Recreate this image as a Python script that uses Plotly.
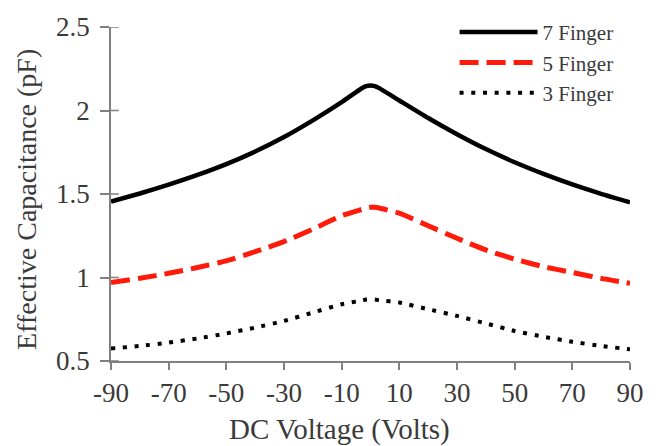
import plotly.graph_objects as go

# DC bias sweep (V) and effective capacitance (pF) for each finger count
voltage = [-90, -80, -70, -60, -50, -40, -30, -20, -10, -3, -1.5, 0, 1.5, 3, 10, 20, 30, 40, 50, 60, 70, 80, 90]
cap_7 = [1.455, 1.503, 1.556, 1.614, 1.679, 1.754, 1.841, 1.941, 2.05, 2.133, 2.146, 2.15, 2.146, 2.134, 2.06, 1.955, 1.858, 1.769, 1.69, 1.62, 1.557, 1.501, 1.45]
cap_5 = [0.97, 0.995, 1.025, 1.06, 1.10, 1.155, 1.215, 1.29, 1.37, 1.408, 1.416, 1.42, 1.42, 1.416, 1.385, 1.31, 1.235, 1.165, 1.11, 1.065, 1.03, 0.995, 0.965]
cap_3 = [0.575, 0.59, 0.61, 0.635, 0.665, 0.70, 0.74, 0.79, 0.84, 0.862, 0.868, 0.87, 0.868, 0.864, 0.85, 0.81, 0.77, 0.725, 0.68, 0.645, 0.615, 0.59, 0.57]

x_ticks = [-90, -70, -50, -30, -10, 10, 30, 50, 70, 90]
x_tick_text = ["-90", "-70", "-50", "-30", "-10", "10", "30", "50", "70", "90"]
y_ticks = [0.5, 1, 1.5, 2, 2.5]
y_tick_text = ["0.5", "1", "1.5", "2", "2.5"]

FONT = "Liberation Serif"
TXT = "#3a3a3a"
AX = "#808080"

fig = go.Figure()
fig.add_trace(go.Scatter(x=voltage, y=cap_7, name="7 Finger", mode="lines",
                         line=dict(color="black", width=4.5, shape="spline", smoothing=0.5)))
fig.add_trace(go.Scatter(x=voltage, y=cap_5, name="5 Finger", mode="lines",
                         line=dict(color="#ff1a0a", width=5, dash="19px,8px", shape="spline", smoothing=0.5)))
fig.add_trace(go.Scatter(x=voltage, y=cap_3, name="3 Finger", mode="lines",
                         line=dict(color="black", width=4, dash="4px,7.7px", shape="spline", smoothing=0.5)))

fig.update_layout(
    width=656, height=446,
    margin=dict(l=111, r=14, t=23, b=85),
    paper_bgcolor="white", plot_bgcolor="white",
    font=dict(family=FONT, size=18, color=TXT),
    showlegend=True,
    legend=dict(x=0.662, y=1.045, xanchor="left", yanchor="top",
                font=dict(family=FONT, size=21, color=TXT),
                bgcolor="rgba(0,0,0,0)", itemwidth=78, tracegroupgap=0),
    xaxis=dict(range=[-90, 90], tickvals=x_ticks, ticktext=x_tick_text, showgrid=False, zeroline=False,
               showline=True, linecolor=AX, linewidth=1.5,
               ticks="outside", ticklen=7, tickwidth=1.5, tickcolor=AX,
               tickfont=dict(family=FONT, size=27, color=TXT)),
    yaxis=dict(range=[0.5, 2.5], tickvals=y_ticks, ticktext=y_tick_text, showgrid=False, zeroline=False,
               showline=True, linecolor=AX, linewidth=1.5,
               ticks="outside", ticklen=9, tickwidth=1.5, tickcolor=AX,
               ticklabelstandoff=5,
               tickfont=dict(family=FONT, size=27, color=TXT)),
)

# inner half of the cross-shaped value-axis ticks
for v in y_ticks:
    fig.add_shape(type="line", xref="paper", yref="y", x0=0, x1=8 / 531, y0=v, y1=v,
                  line=dict(color=AX, width=1.5), layer="above")

fig.add_annotation(text="DC Voltage (Volts)", xref="paper", yref="paper",
                   x=(345 - 111) / 531, y=-(430 - 361) / 338, xanchor="center", yanchor="middle",
                   showarrow=False, font=dict(family=FONT, size=29, color=TXT))
fig.add_annotation(text="Effective Capacitance (pF)", xref="paper", yref="paper",
                   x=-(111 - 25) / 531, y=(361 - 197) / 338, xanchor="center", yanchor="middle",
                   textangle=-90, showarrow=False, font=dict(family=FONT, size=28, color=TXT))

fig.write_html("out.html")
